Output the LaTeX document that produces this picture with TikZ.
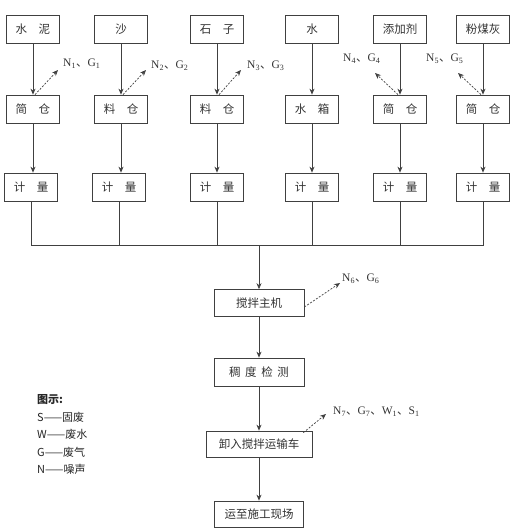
\documentclass[tikz,border=0pt]{standalone}
\usepackage{fontspec}
\setmainfont{Liberation Serif}
\newfontfamily\cjk{Noto Sans CJK SC}
\usetikzlibrary{arrows.meta}
\newcommand{\gap}{\hspace{1em}}
\newcommand{\dun}{{\cjk 、}}

\begin{document}
\begin{tikzpicture}[x=1pt,y=-1pt,
  box/.style={draw=black!75, line width=0.7pt, minimum width=53pt, minimum height=28pt,
    inner sep=0pt, text=black!80, font=\cjk\fontsize{11.5}{13}\selectfont},
  wide/.style={box, minimum width=90pt, minimum height=27pt},
  link/.style={draw=black!75, line width=0.7pt},
  flow/.style={link, -{Stealth[length=6pt,width=5pt]}},
  emit/.style={link, dash pattern=on 2pt off 1.5pt, -{Stealth[length=6pt,width=5pt]}},
  lbl/.style={anchor=west, inner sep=0pt, text=black!80, font=\fontsize{11.5}{13}\selectfont},
  key/.style={anchor=west, inner sep=0pt, text=black!85, font=\cjk\fontsize{11}{13}\selectfont}]
  \useasboundingbox (0,0) rectangle (517,532);

  % raw materials
  \node[box] (cement) at (33,29) {水\gap 泥};
  \node[box] (sand) at (121,29) {沙};
  \node[box] (stone) at (217,29) {石\gap 子};
  \node[box] (water) at (312,29) {水};
  \node[box] (additive) at (400,29) {添加剂};
  \node[box] (ash) at (483,29) {粉煤灰};

  % storage
  \node[box] (bin1) at (33,109) {简\gap 仓};
  \node[box] (bin2) at (121,109) {料\gap 仓};
  \node[box] (bin3) at (217,109) {料\gap 仓};
  \node[box] (bin4) at (312,109) {水\gap 箱};
  \node[box] (bin5) at (400,109) {简\gap 仓};
  \node[box] (bin6) at (483,109) {简\gap 仓};

  % metering
  \node[box] (meter1) at (31,187) {计\gap 量};
  \node[box] (meter2) at (119,187) {计\gap 量};
  \node[box] (meter3) at (217,187) {计\gap 量};
  \node[box] (meter4) at (312,187) {计\gap 量};
  \node[box] (meter5) at (400,187) {计\gap 量};
  \node[box] (meter6) at (483,187) {计\gap 量};

  \draw[flow] (cement) -- (cement |- bin1.north);
  \draw[flow] (sand) -- (sand |- bin2.north);
  \draw[flow] (stone) -- (stone |- bin3.north);
  \draw[flow] (water) -- (water |- bin4.north);
  \draw[flow] (additive) -- (additive |- bin5.north);
  \draw[flow] (ash) -- (ash |- bin6.north);

  \draw[flow] (bin1) -- (bin1 |- meter1.north);
  \draw[flow] (bin2) -- (bin2 |- meter2.north);
  \draw[flow] (bin3) -- (bin3 |- meter3.north);
  \draw[flow] (bin4) -- (bin4 |- meter4.north);
  \draw[flow] (bin5) -- (bin5 |- meter5.north);
  \draw[flow] (bin6) -- (bin6 |- meter6.north);

  % collecting line
  \coordinate (bus) at (259,245);
  \draw[link] (meter1.south) -- (meter1.south |- bus) -- (meter6.south |- bus) -- (meter6.south);
  \draw[link] (meter2.south) -- (meter2.south |- bus);
  \draw[link] (meter3.south) -- (meter3.south |- bus);
  \draw[link] (meter4.south) -- (meter4.south |- bus);
  \draw[link] (meter5.south) -- (meter5.south |- bus);

  % main line
  \node[wide] (mix) at (259,303) {搅拌主机};
  \node[wide, minimum height=28pt] (check) at (259,372) {稠\hspace{0.4em}度\hspace{0.4em}检\hspace{0.4em}测};
  \node[wide, minimum width=106pt, minimum height=26pt] (unload) at (259,444) {卸入搅拌运输车};
  \node[wide, minimum width=89pt, minimum height=26pt] (site) at (259,514) {运至施工现场};
  \draw[flow] (bus) -- (mix);
  \draw[flow] (mix) -- (check);
  \draw[flow] (check) -- (unload);
  \draw[flow] (unload) -- (site);

  % emissions
  \coordinate (e1) at (58,70);
  \coordinate (e2) at (146,70);
  \coordinate (e3) at (241,70);
  \coordinate (e4) at (375,73);
  \coordinate (e5) at (458,73);
  \coordinate (e6) at (340,283);
  \coordinate (e7) at (326,414);
  \draw[emit] ([xshift=2pt]bin1.north) -- (e1);
  \draw[emit] ([xshift=2pt]bin2.north) -- (e2);
  \draw[emit] ([xshift=2pt]bin3.north) -- (e3);
  \draw[emit] ([xshift=-2pt]bin5.north) -- (e4);
  \draw[emit] ([xshift=-2pt]bin6.north) -- (e5);
  \draw[emit] ([yshift=-4pt]mix.east) -- (e6);
  \draw[emit] ([xshift=-9pt,yshift=-2pt]unload.north east) -- (e7);
  \node[lbl] (g1) at (63,64) {N\textsubscript{1}\dun G\textsubscript{1}};
  \node[lbl] (g2) at (151,66) {N\textsubscript{2}\dun G\textsubscript{2}};
  \node[lbl] (g3) at (247,66) {N\textsubscript{3}\dun G\textsubscript{3}};
  \node[lbl] (g4) at (343,59) {N\textsubscript{4}\dun G\textsubscript{4}};
  \node[lbl] (g5) at (426,59) {N\textsubscript{5}\dun G\textsubscript{5}};
  \node[lbl] (g6) at (342,279) {N\textsubscript{6}\dun G\textsubscript{6}};
  \node[lbl] (g7) at (333,412) {N\textsubscript{7}\dun G\textsubscript{7}\dun W\textsubscript{1}\dun S\textsubscript{1}};

  % legend
  \node[key, font=\cjk\bfseries\fontsize{11}{13}\selectfont] (legend) at (37,400) {图示:};
  \node[key] (ks) at (37,417) {S——固废};
  \node[key] (kw) at (37,434) {W——废水};
  \node[key] (kg) at (37,452) {G——废气};
  \node[key] (kn) at (37,469) {N——噪声};
\end{tikzpicture}
\end{document}
